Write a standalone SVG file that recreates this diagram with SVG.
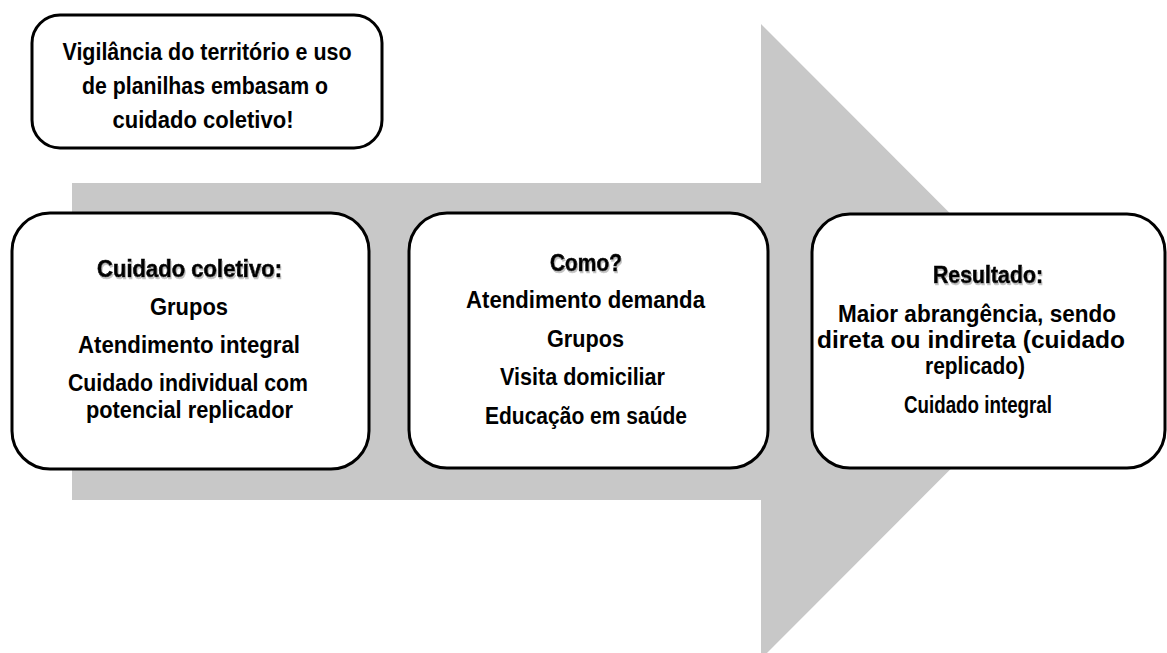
<svg xmlns="http://www.w3.org/2000/svg" width="1167" height="653" viewBox="0 0 1167 653">
<defs>
<style>
.box{fill:#fff;stroke:#000;stroke-width:3}
.t{font-family:"Liberation Sans",Arial,sans-serif;font-weight:bold;font-size:23px;fill:#000;text-anchor:middle}
.h{stroke:#000;stroke-width:0.6;filter:url(#sh)}
</style>
<filter id="sh" x="-10%" y="-30%" width="120%" height="160%">
<feDropShadow dx="1" dy="2" stdDeviation="0.6" flood-color="#999" flood-opacity="0.6"/>
</filter>
</defs>
<rect width="1167" height="653" fill="#fff"/>
<g id="connectors">
<polygon points="72,183 761,183 761,24 1078,341.5 761,659 761,500 72,500" fill="#c8c8c8"/>
</g>
<g id="note">
<rect class="box" x="32" y="15" width="350" height="133" rx="28"/>
<text class="t" x="207" y="60" textLength="289" lengthAdjust="spacingAndGlyphs">Vigilância do território e uso</text>
<text class="t" x="205" y="94" textLength="246" lengthAdjust="spacingAndGlyphs">de planilhas embasam o</text>
<text class="t" x="203" y="128" textLength="181" lengthAdjust="spacingAndGlyphs">cuidado coletivo!</text>
</g>
<g id="box1">
<rect class="box" x="12" y="213" width="357" height="256" rx="38"/>
<text class="t h" x="189.5" y="277" textLength="185" lengthAdjust="spacingAndGlyphs">Cuidado coletivo:</text>
<text class="t" x="189" y="315" textLength="78" lengthAdjust="spacingAndGlyphs">Grupos</text>
<text class="t" x="189" y="353" textLength="222" lengthAdjust="spacingAndGlyphs">Atendimento integral</text>
<text class="t" x="188" y="391" textLength="240" lengthAdjust="spacingAndGlyphs">Cuidado individual com</text>
<text class="t" x="189.5" y="418" textLength="207" lengthAdjust="spacingAndGlyphs">potencial replicador</text>
</g>
<g id="box2">
<rect class="box" x="409" y="213" width="359" height="255" rx="38"/>
<text class="t h" x="586" y="271" textLength="72" lengthAdjust="spacingAndGlyphs">Como?</text>
<text class="t" x="585.5" y="308" textLength="239" lengthAdjust="spacingAndGlyphs">Atendimento demanda</text>
<text class="t" x="585.5" y="347" textLength="77" lengthAdjust="spacingAndGlyphs">Grupos</text>
<text class="t" x="582.5" y="385" textLength="165" lengthAdjust="spacingAndGlyphs">Visita domiciliar</text>
<text class="t" x="586" y="424" textLength="202" lengthAdjust="spacingAndGlyphs">Educação em saúde</text>
</g>
<g id="box3">
<rect class="box" x="812" y="214" width="353" height="254" rx="38"/>
<text class="t h" x="988" y="283" textLength="110" lengthAdjust="spacingAndGlyphs">Resultado:</text>
<text class="t" x="977" y="322" textLength="278" lengthAdjust="spacingAndGlyphs">Maior abrangência, sendo</text>
<text class="t" x="971" y="348" textLength="308" lengthAdjust="spacingAndGlyphs">direta ou indireta (cuidado</text>
<text class="t" x="975" y="374" textLength="100" lengthAdjust="spacingAndGlyphs">replicado)</text>
<text class="t" x="978" y="413" textLength="148" lengthAdjust="spacingAndGlyphs">Cuidado integral</text>
</g>
</svg>
